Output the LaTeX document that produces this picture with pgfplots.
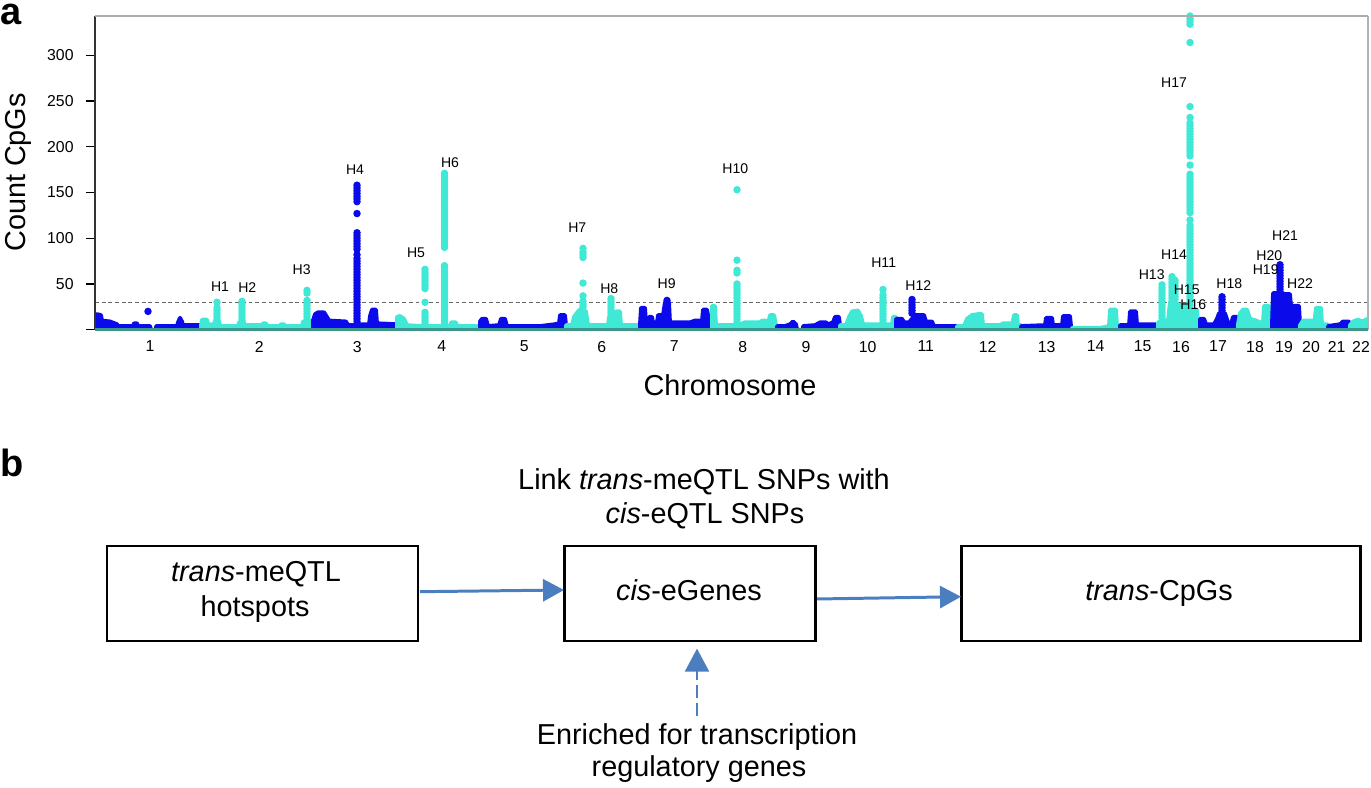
\documentclass[border=0pt]{standalone}
\usepackage{fontspec}
\setmainfont{Liberation Sans}
\usepackage{pgfplots}
\pgfplotsset{compat=1.18}
\usetikzlibrary{arrows.meta}
\definecolor{cblue}{RGB}{10,10,235}
\definecolor{ccyan}{RGB}{64,232,214}
\definecolor{cbase}{RGB}{60,150,140}
\definecolor{carrow}{RGB}{74,126,190}
\pgfplotsset{
  blue area/.style={fill=cblue, draw=cblue, line width=1.1pt, line join=round},
  cyan area/.style={fill=ccyan, draw=ccyan, line width=1.1pt, line join=round},
  blue dots/.style={only marks, mark=*, mark size=0.85pt, color=cblue, mark options={draw=none, fill=cblue}},
  cyan dots/.style={only marks, mark=*, mark size=0.85pt, color=ccyan, mark options={draw=none, fill=ccyan}},
}
\newcommand{\hl}[3]{\node[font=\fontsize{4}{4.8}\selectfont, inner sep=0pt] at (axis cs:#1,#2) {#3};}
\begin{document}
\begin{tikzpicture}
\path[use as bounding box] (0,0) rectangle (13.71,7.88);
\begin{axis}[
  at={(0.95cm,4.583cm)}, anchor=south west, scale only axis,
  width=12.73cm, height=3.137cm,
  xmin=95, xmax=1368, ymin=0, ymax=343,
  axis line style={draw=none},
  clip mode=individual,
  ytick={0,50,100,150,200,250,300},
  yticklabels={,50,100,150,200,250,300},
  ytick pos=left, xtick pos=bottom,
  tick align=outside, major tick length=0.09cm,
  ytick style={black, line width=0.4pt},
  xtick style={draw=none},
  xtick={150,259.3,357.3,441.7,524.3,601.7,674.3,742.7,806,867.7,925.7,987.7,1046.7,1095.7,1142.7,1181,1218,1255,1284,1311,1336.7,1361},
  xticklabels={1,2,3,4,5,6,7,8,9,10,11,12,13,14,15,16,17,18,19,20,21,22},
  ticklabel style={font=\fontsize{4.5}{5.4}\selectfont},
  xticklabel style={yshift=0.1cm},
  /pgf/number format/assume math mode=true,
]
% threshold
\addplot[gray!80!black, line width=0.35pt, dash pattern=on 1.1pt off 0.8pt] coordinates {(95,29.5) (1368,29.5)};
% chromosome baseline profiles
\addplot[blue area] coordinates {(95,16)(97,17)(101,16)(102,10)(110,9)(117,6)(118,4)(133,4)(134,7)(137,7)(138,4)(150,4)(151,0)(156,0)(156,4)(177,4)(178,8)(180,13)(182,9)(183,5)(201,5)} \closedcycle;
\addplot[cyan area] coordinates {(201,5)(202,11)(207,11)(208,6)(214,6)(215,10)(219,10)(220,4)(238,4)(239,8)(244,8)(245,5)(262,5)(263,7)(266,7)(267,4)(280,4)(281,6)(284,6)(285,4)(302,4)(303,9)(310,9)(311,10)(313,10)} \closedcycle;
\addplot[blue area] coordinates {(313,10)(315,17)(318,19)(324,19)(327,14)(329,10)(346,9)(348,5)(355,5)(360,6)(369,6)(370,15)(372,22)(376,22)(377,7)(397,6)} \closedcycle;
\addplot[cyan area] coordinates {(397,14)(400,15)(404,12)(407,5)(420,4)(430,4)(450,4)(451,8)(456,8)(457,4)(480,4)} \closedcycle;
\addplot[blue area] coordinates {(480,9)(482,12)(486,12)(488,4)(499,5)(501,12)(505,12)(507,4)(540,4)(555,6)(559,7)(560,16)(565,16)(566,5)} \closedcycle;
\addplot[cyan area] coordinates {(566,5)(572,5)(574,14)(578,20)(582,24)(586,20)(588,5)(608,5)(609,14)(614,14)(616,20)(620,20)(621,5)(640,5)} \closedcycle;
\addplot[blue area] coordinates {(640,6)(641,24)(645,24)(646,8)(648,8)(649,14)(652,14)(653,8)(657,8)(658,16)(663,16)(665,30)(669,30)(670,8)(690,8)(695,10)(702,10)(703,22)(707,22)(709,10)(712,6)} \closedcycle;
\addplot[cyan area] coordinates {(712,26)(715,26)(716,5)(734,5)(740,6)(745,8)(760,8)(762,10)(766,10)(768,6)(770,16)(774,16)(776,5)(777,4)} \closedcycle;
\addplot[blue area] coordinates {(777,4)(785,4)(790,6)(793,9)(796,6)(797,0)(803,0)(803,4)(815,5)(820,8)(826,8)(828,6)(833,8)(835,14)(839,14)(840,5)} \closedcycle;
\addplot[cyan area] coordinates {(840,5)(846,5)(849,14)(852,20)(858,21)(861,15)(863,6)(880,6)(885,6)(892,6)(893,14)(896,14)} \closedcycle;
\addplot[blue area] coordinates {(896,12)(902,12)(904,8)(909,8)(915,16)(924,16)(926,9)(932,9)(934,4)(957,4)} \closedcycle;
\addplot[cyan area] coordinates {(957,4)(964,4)(967,12)(972,16)(978,17)(982,17)(983,5)(1000,5)(1003,7)(1010,7)(1012,5)(1014,16)(1017,16)(1018,5)(1021,5)} \closedcycle;
\addplot[blue area] coordinates {(1021,4)(1045,5)(1046,13)(1052,13)(1053,5)(1062,5)(1063,15)(1070,15)(1071,4)} \closedcycle;
\addplot[cyan area] coordinates {(1072,2)(1100,2)(1105,3)(1109,4)(1110,22)(1116,22)(1117,4)(1120,4)} \closedcycle;
\addplot[blue area] coordinates {(1120,5)(1129,5)(1130,20)(1136,20)(1137,6)(1158,6)} \closedcycle;
\addplot[cyan area] coordinates {(1158,8)(1163,10)(1168,10)(1170,30)(1176,30)(1178,27)(1186,27)(1188,20)(1194,22)(1197,22)(1198,8)(1200,8)} \closedcycle;
\addplot[blue area] coordinates {(1200,12)(1204,12)(1206,6)(1214,6)(1217,12)(1219,18)(1225,18)(1228,8)(1231,6)(1233,14)(1237,14)(1238,5)} \closedcycle;
\addplot[cyan area] coordinates {(1238,6)(1240,18)(1243,22)(1247,22)(1250,12)(1256,10)(1260,8)(1263,8)(1264,26)(1269,26)(1270,6)(1272,6)} \closedcycle;
\addplot[blue area] coordinates {(1272,6)(1273,40)(1283,40)(1284,39)(1290,39)(1291,26)(1299,26)(1300,6)} \closedcycle;
\addplot[cyan area] coordinates {(1300,5)(1303,10)(1312,10)(1314,5)(1316,24)(1321,24)(1322,6)(1328,6)} \closedcycle;
\addplot[blue area] coordinates {(1328,4)(1340,6)(1343,9)(1349,9)(1350,4)} \closedcycle;
\addplot[cyan area] coordinates {(1350,5)(1353,9)(1358,11)(1362,9)(1368,12)} \closedcycle;
% hotspot columns (blue)
\addplot[blue dots] coordinates {(148,20)};
\addplot[blue dots] coordinates {(357,158)(357,155)(357,152)(357,149)(357,146)(357,143)(357,140)(357,127)(357,106)(357,103)(357,100)(357,97)(357,94)(357,91)(357,88)(357,82)(357,78)(357,75)(357,72)(357,69)(357,66)(357,63)(357,60)(357,57)(357,54)(357,51)(357,48)(357,45)(357,42)(357,39)(357,36)(357,33)(357,30)(357,27)(357,24)(357,21)(357,18)(357,15)(357,12)(357,9)};
\addplot[blue dots] coordinates {(667,32)(667,29)(667,26)};
\addplot[blue dots] coordinates {(912,33)(912,30)(912,27)(912,24)(912,21)(912,18)};
\addplot[blue dots] coordinates {(1222,36)(1222,33)(1222,30)(1222,27)(1222,24)(1222,21)(1222,18)};
\addplot[blue dots] coordinates {(1280,71)(1280,68)(1280,65)(1280,62)(1280,59)(1280,56)(1280,53)(1280,50)(1280,47)(1280,44)(1280,41)};
% hotspot columns (cyan)
\addplot[cyan dots] coordinates {(217,30)(217,24)(217,21)(217,18)(217,15)(217,12)};
\addplot[cyan dots] coordinates {(242,31)(242,28)(242,25)(242,22)(242,19)(242,16)(242,13)(242,10)};
\addplot[cyan dots] coordinates {(307,43)(307,40)(307,32)(307,29)(307,26)(307,23)(307,20)(307,17)(307,14)(307,11)};
\addplot[cyan dots] coordinates {(425,66)(425,63)(425,60)(425,57)(425,54)(425,51)(425,48)(425,45)(425,30)(425,19)(425,16)(425,13)(425,10)(425,7)};
\addplot[cyan dots] coordinates {(444.5,171)(444.5,168)(444.5,165)(444.5,162)(444.5,159)(444.5,156)(444.5,153)(444.5,150)(444.5,147)(444.5,144)(444.5,141)(444.5,138)(444.5,135)(444.5,132)(444.5,129)(444.5,126)(444.5,123)(444.5,120)(444.5,117)(444.5,114)(444.5,111)(444.5,108)(444.5,105)(444.5,102)(444.5,99)(444.5,96)(444.5,93)(444.5,90)(444.5,70)(444.5,67)(444.5,64)(444.5,61)(444.5,58)(444.5,55)(444.5,52)(444.5,49)(444.5,46)(444.5,43)(444.5,40)(444.5,37)(444.5,34)(444.5,31)(444.5,28)(444.5,25)(444.5,22)(444.5,19)(444.5,16)(444.5,13)(444.5,10)(444.5,7)};
\addplot[cyan dots] coordinates {(583,89)(583,85)(583,82)(583,79)(583,51)(583,37)(583,31)(583,28)(583,25)};
\addplot[cyan dots] coordinates {(611,34)(611,31)(611,28)(611,25)(611,22)(611,19)(611,16)};
\addplot[cyan dots] coordinates {(737,153)(737,76)(737,65)(737,62)(737,50)(737,47)(737,44)(737,41)(737,38)(737,35)(737,32)(737,29)(737,26)(737,23)(737,20)(737,17)(737,14)(737,11)(737,8)};
\addplot[cyan dots] coordinates {(883,44)(883,38)(883,35)(883,32)(883,29)(883,26)(883,23)(883,20)(883,17)(883,14)(883,11)(883,8)};
\addplot[cyan dots] coordinates {(1162,49)(1162,46)(1162,43)(1162,40)(1162,37)(1162,34)(1162,31)(1162,28)(1162,25)(1162,22)(1162,19)(1162,16)(1162,13)};
\addplot[cyan dots] coordinates {(1172,58)(1172,55)(1172,52)(1172,49)(1172,46)(1172,43)(1172,40)(1172,37)(1172,34)(1172,31)(1175,54)(1175,51)(1175,48)(1175,45)(1175,42)(1175,39)(1175,36)(1175,33)};
\addplot[cyan dots] coordinates {(1190,343)(1190,340)(1190,337)(1190,334)(1190,314)(1190,244)(1190,232)(1190,226)(1190,223)(1190,220)(1190,217)(1190,214)(1190,211)(1190,208)(1190,205)(1190,202)(1190,199)(1190,196)(1190,193)(1190,190)(1190,180)(1190,170)(1190,167)(1190,164)(1190,161)(1190,158)(1190,155)(1190,152)(1190,149)(1190,146)(1190,143)(1190,140)(1190,137)(1190,134)(1190,131)(1190,128)(1190,120)(1190,114)(1190,111)(1190,108)(1190,105)(1190,102)(1190,99)(1190,96)(1190,93)(1190,90)(1190,87)(1190,84)(1190,81)(1190,78)(1190,75)(1190,72)(1190,69)(1190,66)(1190,63)(1190,60)(1190,57)(1190,54)(1190,51)(1190,48)(1190,45)(1190,42)(1190,39)(1190,36)(1190,33)(1190,30)(1190,27)(1190,24)(1190,21)(1190,18)(1190,15)(1190,12)(1190,9)};
% hotspot labels
\hl{220}{47}{H1}
\hl{247.3}{46.3}{H2}
\hl{301.7}{66}{H3}
\hl{355}{175.3}{H4}
\hl{416}{84.6}{H5}
\hl{450}{182.8}{H6}
\hl{577.3}{111.9}{H7}
\hl{609.3}{44.8}{H8}
\hl{666.7}{50.3}{H9}
\hl{735.3}{176.4}{H10}
\hl{883.7}{73.2}{H11}
\hl{918.3}{47.8}{H12}
\hl{1151.7}{60.6}{H13}
\hl{1174}{81.7}{H14}
\hl{1186.7}{43.4}{H15}
\hl{1193.3}{27.8}{H16}
\hl{1174}{270}{H17}
\hl{1229.3}{50}{H18}
\hl{1265.7}{65.3}{H19}
\hl{1269.3}{80.6}{H20}
\hl{1285}{103.2}{H21}
\hl{1300}{50.7}{H22}
\end{axis}
% axis frame
\draw[black!80, line width=0.45pt] (0.95,4.583) -- (0.95,7.72);
\draw[gray!65, line width=0.6pt] (0.95,7.72) -- (13.68,7.72);
\draw[gray!60, line width=0.4pt] (13.68,7.72) -- (13.68,4.583);
\draw[cbase, line width=0.8pt] (0.95,4.583) -- (13.68,4.583);
% axis titles
\node[rotate=90, anchor=base, font=\fontsize{8.2}{9.8}\selectfont, inner sep=0pt] at (0.25,6.155) {Count CpGs};
\node[anchor=base, font=\fontsize{8.2}{9.8}\selectfont, inner sep=0pt] at (7.30,3.92) {Chromosome};
% panel letters
\node[anchor=base west, font=\fontsize{10.8}{12}\selectfont\bfseries, inner sep=0pt] at (0,7.63) {a};
\node[anchor=base west, font=\fontsize{10.8}{12}\selectfont\bfseries, inner sep=0pt] at (0,3.11) {b};
% panel b
\draw[line width=0.85pt] (1.07,1.47) rectangle (4.18,2.42);
\draw[line width=0.85pt] (5.64,1.47) rectangle (8.15,2.42);
\draw[line width=0.85pt] (9.61,1.47) rectangle (13.60,2.42);
\begin{scope}[every node/.style={anchor=base, inner sep=0pt, font=\fontsize{8.2}{9.8}\selectfont}]
\node at (7.04,2.98) {Link \textit{trans}-meQTL SNPs with};
\node at (7.05,2.64) {\textit{cis}-eQTL SNPs};
\node at (2.56,2.06) {\textit{trans}-meQTL};
\node at (2.55,1.71) {hotspots};
\node at (6.89,1.873) {\textit{cis}-eGenes};
\node at (11.59,1.873) {\textit{trans}-CpGs};
\node at (6.97,0.43) {Enriched for transcription};
\node at (6.99,0.11) {regulatory genes};
\end{scope}
\draw[carrow, line width=0.85pt, -{Triangle[length=0.21cm,width=0.22cm]}] (4.20,1.963) -- (5.64,1.98);
\draw[carrow, line width=0.85pt, -{Triangle[length=0.21cm,width=0.22cm]}] (8.17,1.89) -- (9.61,1.913);
\draw[carrow, line width=0.6pt, dash pattern=on 0.13cm off 0.05cm] (6.97,0.72) -- (6.97,1.17);
\draw[carrow, line width=0.6pt, -{Triangle[length=0.23cm,width=0.24cm]}] (6.97,1.15) -- (6.97,1.394);
\end{tikzpicture}
\end{document}
